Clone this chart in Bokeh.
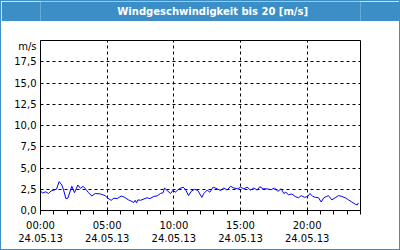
from bokeh.plotting import figure
from bokeh.layouts import column
from bokeh.models import Range1d, FixedTicker
from bokeh.core.properties import value
from bokeh.embed import file_html
from bokeh.resources import INLINE

title_text = "Windgeschwindigkeit bis 20 [m/s]"
unit_text = "m/s"
date_text = "24.05.13"

hours = [0.0, 0.15, 0.4, 0.6, 0.8, 1.0, 1.2, 1.4, 1.6, 1.75, 1.9, 2.05, 2.35, 2.55, 2.8,
         3.0, 3.2, 3.4, 3.6, 3.85, 4.1, 4.5, 4.85, 5.05, 5.3, 5.5, 5.75, 6.05, 6.3, 6.6,
         7.0, 7.1, 7.2, 7.3, 7.5, 8.0, 8.2, 8.5, 8.75, 9.0, 9.2, 9.3, 9.5, 9.75, 9.95,
         10.1, 10.4, 10.7, 10.9, 11.1, 11.3, 11.55, 11.8, 12.1, 12.25, 12.5, 12.7, 12.95,
         13.25, 13.5, 13.75, 14.0, 14.25, 14.5, 14.8, 15.0, 15.25, 15.5, 15.75, 16.0,
         16.25, 16.45, 16.7, 17.0, 17.3, 17.55, 17.8, 18.05, 18.25, 18.4, 18.6, 18.85,
         19.1, 19.35, 19.55, 19.8, 20.05, 20.2, 20.4, 20.6, 20.85, 21.05, 21.25, 21.45,
         21.6, 21.85, 22.1, 22.35, 22.6, 22.85, 23.1, 23.35, 23.6, 23.75, 23.85]
speed = [2.3, 2.05, 2.2, 2.0, 2.3, 2.4, 2.5, 3.4, 3.0, 2.3, 1.4, 1.45, 2.85, 2.1, 3.0,
         2.6, 2.85, 2.5, 2.1, 1.7, 2.0, 1.95, 1.75, 1.45, 1.2, 1.45, 1.4, 1.7, 1.55, 1.25,
         0.95, 1.2, 0.9, 1.25, 1.2, 1.5, 1.4, 1.65, 1.72, 2.0, 2.1, 2.65, 2.35, 2.0, 2.4,
         2.15, 2.55, 2.75, 2.4, 1.75, 2.25, 2.5, 2.35, 1.55, 2.0, 2.4, 2.15, 2.75,
         2.55, 2.35, 2.65, 2.4, 2.85, 2.65, 2.55, 2.75, 2.55, 2.75, 2.4, 2.65,
         2.4, 2.8, 2.55, 2.55, 2.45, 2.65, 2.25, 2.55, 2.0, 2.15, 1.85, 1.95,
         1.65, 1.5, 1.75, 1.55, 1.65, 2.0, 1.7, 1.55, 1.5, 1.0, 1.5, 1.65,
         1.75, 1.25, 1.5, 1.75, 1.65, 1.5, 1.25, 1.0, 0.75, 0.65, 0.9]

x_ticks = [0, 5, 10, 15, 20]
x_tick_labels = ["00:00", "05:00", "10:00", "15:00", "20:00"]
y_ticks = [0, 2.5, 5, 7.5, 10, 12.5, 15, 17.5]
y_tick_labels = ["0,0", "2,5", "5,0", "7,5", "10,0", "12,5", "15,0", "17,5"]
unit_pos = 19.25

FONT = "DejaVu Sans"
BLUE = "#3b8ec6"

# title bar
t = figure(width=398, height=20, output_backend="svg", toolbar_location=None,
           x_range=Range1d(0, 1), y_range=Range1d(0, 1),
           min_border_left=0, min_border_right=0, min_border_top=0, min_border_bottom=0)
t.axis.visible = False
t.grid.visible = False
t.outline_line_color = None
t.background_fill_color = BLUE
t.border_fill_color = BLUE
t.text(x=[0.538], y=[0.5], text=[title_text], text_font=value(FONT),
       text_font_size="10px", text_font_style="bold", text_color="white",
       text_align="center", text_baseline="middle")

# main chart
p = figure(width=398, height=228, output_backend="svg", toolbar_location=None,
           x_range=Range1d(0, 24), y_range=Range1d(0, 20),
           min_border_left=39, min_border_right=39, min_border_top=19, min_border_bottom=39)
p.background_fill_color = "white"
p.border_fill_color = "white"
p.outline_line_color = "black"
p.outline_line_width = 1

p.line(hours, speed, line_color="#0000ff", line_width=1)

p.xaxis.ticker = FixedTicker(ticks=x_ticks, minor_ticks=list(range(0, 25)))
p.xaxis.major_label_overrides = {tk: f"{l}\n{date_text}" for tk, l in zip(x_ticks, x_tick_labels)}
p.xaxis.major_tick_out = 4
p.xaxis.major_tick_in = 0
p.xaxis.minor_tick_out = 4
p.xaxis.minor_tick_in = 0
p.xaxis.major_label_standoff = 5
p.xaxis.axis_line_color = "black"
p.xaxis.major_tick_line_color = "black"
p.xaxis.minor_tick_line_color = "black"
p.xaxis.major_label_text_font = FONT
p.xaxis.major_label_text_font_size = "10px"
p.xaxis.major_label_text_color = "black"

p.yaxis.ticker = FixedTicker(ticks=y_ticks + [unit_pos])
overrides = {tk: l for tk, l in zip(y_ticks, y_tick_labels)}
overrides[unit_pos] = unit_text
p.yaxis.major_label_overrides = overrides
p.yaxis.major_tick_out = 0
p.yaxis.major_tick_in = 0
p.yaxis.minor_tick_out = 0
p.yaxis.minor_tick_in = 0
p.yaxis.major_label_standoff = 4
p.yaxis.axis_line_color = "black"
p.yaxis.major_label_text_font = FONT
p.yaxis.major_label_text_font_size = "10px"
p.yaxis.major_label_text_color = "black"

p.ygrid.ticker = FixedTicker(ticks=y_ticks)
p.xgrid.ticker = FixedTicker(ticks=x_ticks)
for g in (p.xgrid, p.ygrid):
    g.grid_line_color = "black"
    g.grid_line_dash = "3 3"
    g.grid_line_width = 1

layout = column(t, p, spacing=0,
                styles={"border": f"1px solid {BLUE}", "background-color": "white"})

open("out.html", "w").write(file_html(layout, INLINE))
